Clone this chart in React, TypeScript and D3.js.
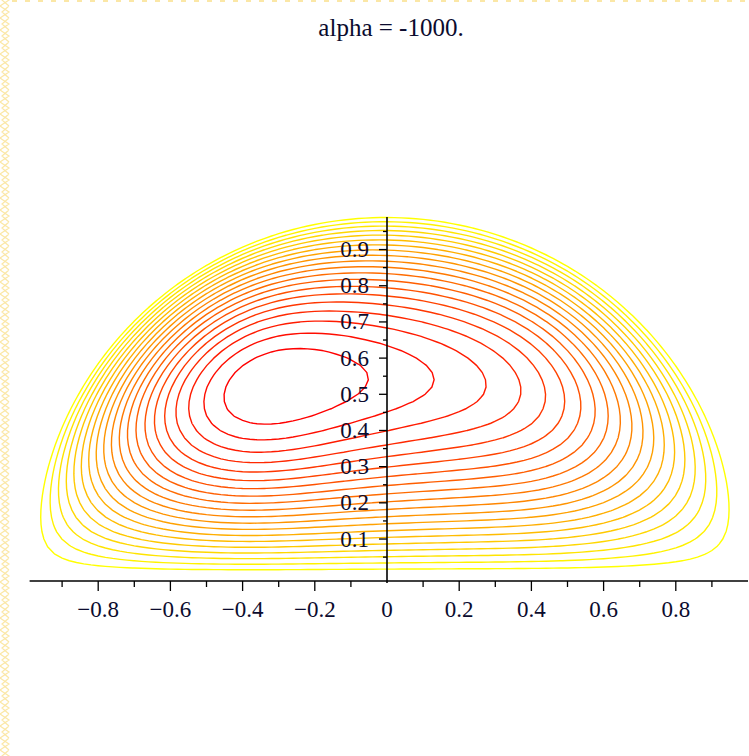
import React, { useEffect, useRef } from 'react';
import * as d3 from 'd3';

// contour levels (fraction of the field maximum), outermost first
const levels = [
  0.0476, 0.0952, 0.1429, 0.1905, 0.2381, 0.2857, 0.3333, 0.381, 0.4286, 0.4762,
  0.5238, 0.5714, 0.619, 0.6667, 0.7143, 0.7619, 0.8095, 0.8571, 0.9048, 0.9524,
];
const levelColors = ['#ffff00', '#ff0000'];

// field: half disk, vortex core near (-0.3, 0.52)
const boundaryShape = [0.5, 0.25];
const skew = [3.29, 0.585, -0.3, 0.29];
const shoulder = [0.11, 0.5, 0.25];

const xMajor = [-0.8, -0.6, -0.4, -0.2, 0.2, 0.4, 0.6, 0.8];
const xMinor = [-0.9, -0.7, -0.5, -0.3, -0.1, 0.1, 0.3, 0.5, 0.7, 0.9];
const xLabels = [-0.8, -0.6, -0.4, -0.2, 0, 0.2, 0.4, 0.6, 0.8];
const yMajor = [0.1, 0.2, 0.3, 0.4, 0.5, 0.6, 0.7, 0.8, 0.9];
const yMinor = [0.05, 0.15, 0.25, 0.35, 0.45, 0.55, 0.65, 0.75, 0.85, 0.95];

const title = 'alpha = -1000.';

function field(px: number, py: number) {
  const b = py * (1 - px * px - py * py);
  const h = 1 + boundaryShape[0] * px * px - boundaryShape[1] * py;
  const s = (px - shoulder[1]) / shoulder[2];
  const a = skew[0] - skew[1] * Math.tanh((px - skew[2]) / skew[3]) + shoulder[0] * Math.exp(-s * s);
  return b * h * a;
}

const fmt = (d: number) => (d < 0 ? '\u2212' + Math.abs(d) : String(d));

export default function App() {
  const ref = useRef<SVGSVGElement>(null);

  useEffect(() => {
    const svg = d3.select(ref.current);
    svg.selectAll('*').remove();

    const W = 749, H = 756;
    const font = '"Liberation Serif", "Times New Roman", serif';

    // page decoration
    const deco = svg.append('g').attr('stroke', '#fbe7a6').attr('fill', 'none').attr('stroke-width', 1.2);
    let zig = '';
    let zag = '';
    for (let yy = -6; yy < H; yy += 12) {
      zig += `M0,${yy}L9,${yy + 6}L0,${yy + 12}`;
      zag += `M9,${yy}L2,${yy + 6}L9,${yy + 12}`;
    }
    deco.append('path').attr('d', zig);
    deco.append('path').attr('d', zag);
    deco.append('line')
      .attr('x1', 12).attr('x2', W).attr('y1', 1).attr('y2', 1)
      .attr('stroke-width', 2).attr('stroke-dasharray', '5,8');

    const x = d3.scaleLinear().domain([-1, 1]).range([26, 748]);
    const y = d3.scaleLinear().domain([-0.016, 0.99]).range([581, 217]);

    // sample the field and contour it
    const nx = 101, ny = 51;
    const gx = d3.scaleLinear().domain([0, nx - 1]).range([-1, 1]);
    const gy = d3.scaleLinear().domain([0, ny - 1]).range([0, 1]);
    const values: number[] = new Array(nx * ny);
    for (let j = 0; j < ny; j++) {
      for (let i = 0; i < nx; i++) values[j * nx + i] = field(gx(i), gy(j));
    }
    const contours = d3.contours().size([nx, ny]).thresholds(levels)(values);
    const color = d3.scaleLinear<string>()
      .domain([levels[0], levels[levels.length - 1]])
      .range(levelColors)
      .interpolate(d3.interpolateRgb);

    const line = d3.line<[number, number]>()
      .x(p => x(gx(p[0] - 0.5)))
      .y(p => y(gy(p[1] - 0.5)));

    const cg = svg.append('g').attr('fill', 'none');
    contours.forEach(c => {
      c.coordinates.forEach(poly => {
        poly.forEach(ring => {
          cg.append('path')
            .attr('d', line(ring as [number, number][]) + 'Z')
            .attr('stroke', color(c.value))
            .attr('stroke-width', 1.4);
        });
      });
    });

    // axes
    const ax = svg.append('g').attr('stroke', '#000');
    const y0 = y(-0.016);
    ax.append('line')
      .attr('x1', x(-0.99)).attr('x2', x(1)).attr('y1', y0).attr('y2', y0)
      .attr('stroke-width', 1.6);
    ax.append('line')
      .attr('x1', x(0)).attr('x2', x(0)).attr('y1', y(0.99)).attr('y2', y0 + 2)
      .attr('stroke-width', 1.6);

    ax.selectAll('.xmaj').data(xMajor).join('line')
      .attr('class', 'xmaj')
      .attr('x1', d => x(d)).attr('x2', d => x(d))
      .attr('y1', y0).attr('y2', y0 + 10).attr('stroke-width', 1.3);
    ax.selectAll('.xmin').data(xMinor).join('line')
      .attr('class', 'xmin')
      .attr('x1', d => x(d)).attr('x2', d => x(d))
      .attr('y1', y0).attr('y2', y0 + 6).attr('stroke-width', 1.3);
    ax.selectAll('.ymaj').data(yMajor).join('line')
      .attr('class', 'ymaj')
      .attr('x1', x(0) - 8).attr('x2', x(0))
      .attr('y1', d => y(d)).attr('y2', d => y(d)).attr('stroke-width', 1.3);
    ax.selectAll('.ymin').data(yMinor).join('line')
      .attr('class', 'ymin')
      .attr('x1', x(0) - 4).attr('x2', x(0))
      .attr('y1', d => y(d)).attr('y2', d => y(d)).attr('stroke-width', 1.3);

    const tg = svg.append('g')
      .style('font-family', font)
      .style('font-size', '23px')
      .attr('fill', '#0b0b2e');

    tg.selectAll('.xl').data(xLabels).join('text')
      .attr('class', 'xl')
      .attr('x', d => x(d))
      .attr('y', 617)
      .attr('text-anchor', 'middle')
      .text(d => fmt(d));

    tg.selectAll('.yl').data(yMajor).join('text')
      .attr('class', 'yl')
      .attr('x', x(0) - 18)
      .attr('y', d => y(d) + 7.5)
      .attr('text-anchor', 'end')
      .text(d => fmt(d));

    svg.append('text')
      .attr('x', 391)
      .attr('y', 36)
      .attr('text-anchor', 'middle')
      .style('font-family', font)
      .style('font-size', '25px')
      .attr('fill', '#0b0b2e')
      .text(title);
  }, []);

  return (
    <svg
      ref={ref}
      width={749}
      height={756}
      style={{ position: 'absolute', left: 0, top: 0, background: '#fff' }}
    />
  );
}
